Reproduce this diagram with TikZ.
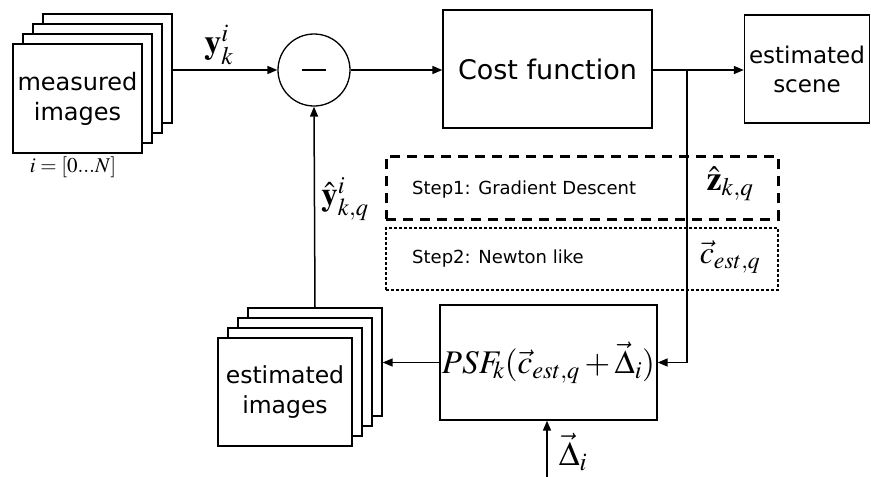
\documentclass[tikz,border=0pt]{standalone}
\usepackage{mathptmx}
\usepackage[no-math]{fontspec}
\newfontfamily\dv{DejaVu Sans}
\usetikzlibrary{arrows.meta}
\tikzset{
  lbl/.style={inner sep=0pt},
  sbox/.style={draw, line width=1.3pt, fill=white, inner sep=0pt, align=center},
  conn/.style={line width=1.5pt},
  arr/.style={conn, -{Triangle[length=10pt,width=8pt]}},
}
\begin{document}
\begin{tikzpicture}[x=1pt,y=-1pt]
\useasboundingbox (0,0) rectangle (871,477);
% measured images stack
\foreach \k/\cx/\cy in {3/107.5/68.5,2/97.5/78.5,1/87.5/88.5}{
  \node[sbox, minimum width=129pt, minimum height=109pt] (m\k) at (\cx,\cy) {};
}
\node[sbox, minimum width=129pt, minimum height=109pt, font=\dv\fontsize{24}{30}\selectfont] (m0) at (77.5,98.5) {measured\\images};
\node[lbl, font=\fontsize{21}{23}\selectfont] (range) at (73,167) {$i=[0...N]$};
% subtraction
\node[draw, circle, line width=1.3pt, minimum size=72pt, inner sep=0pt] (sub) at (314,70) {};
\draw[line width=2.5pt] ([xshift=-12pt]sub.center) -- ([xshift=12pt]sub.center);
% cost function
\node[sbox, minimum width=209pt, minimum height=118pt, font=\dv\fontsize{27}{32}\selectfont] (cost) at (547.5,69) {Cost function};
\node[sbox, minimum width=125pt, minimum height=108pt, font=\dv\fontsize{23}{29}\selectfont] (scene) at (807,69) {estimated\\scene};
% step boxes
\node[draw, line width=3pt, dash pattern=on 10pt off 7pt, minimum width=392pt, minimum height=63pt, inner sep=0pt] (s1) at (582,187.5) {};
\node[draw, line width=2.6pt, dash pattern=on 2.6pt off 2.4pt, minimum width=392pt, minimum height=62pt, inner sep=0pt] (s2) at (582,259) {};
\node[lbl, anchor=west, font=\dv\fontsize{18}{21}\selectfont] (t1) at (412,190) {Step1: Gradient Descent};
\node[lbl, anchor=west, font=\dv\fontsize{18}{21}\selectfont] (t2) at (412,259) {Step2: Newton like};
\node[lbl, font=\fontsize{34}{36}\selectfont] (zhat) at (730,184) {$\hat{\mathbf{z}}_{k,q}$};
\node[lbl, font=\fontsize{32}{36}\selectfont] (cest) at (730,257) {$\vec{c}_{est,q}$};
% PSF box
\node[sbox, minimum width=217pt, minimum height=115pt, font=\fontsize{33}{38}\selectfont] (psf) at (548.5,362.5) {$PSF_{\!k}(\vec{c}_{est,q}+\vec{\Delta}_i)$};
% estimated images stack
\foreach \k/\cx/\cy in {3/315/362,2/305/372,1/295/382}{
  \node[sbox, minimum width=134pt, minimum height=108pt] (e\k) at (\cx,\cy) {};
}
\node[sbox, minimum width=134pt, minimum height=108pt, font=\dv\fontsize{23.5}{30}\selectfont] (e0) at (285,392) {estimated\\images};
% labels
\node[lbl, font=\fontsize{34}{36}\selectfont] (ylbl) at (219,45) {$\mathbf{y}_k^i$};
\node[lbl, font=\fontsize{33}{36}\selectfont] (yhlbl) at (345,199) {$\hat{\mathbf{y}}_{k,q}^i$};
\node[lbl, font=\fontsize{34}{38}\selectfont] (dlbl) at (573,452) {$\vec{\Delta}_i$};
% connectors
\coordinate (j) at (687,70);
\coordinate (din) at (547,477);
\draw[arr] (sub.west -| m3.east) -- (sub.west);
\draw[arr] (sub.east) -- (sub.east -| cost.west);
\draw[arr] (sub -| cost.east) -- (sub -| scene.west);
\draw[arr] (j) |- (psf.east);
\draw[arr] (psf.west) -- (psf.west -| e3.east);
\draw[arr] (e3.north) -- (sub.south);
\draw[arr] (din) -- (din |- psf.south);
\end{tikzpicture}
\end{document}
